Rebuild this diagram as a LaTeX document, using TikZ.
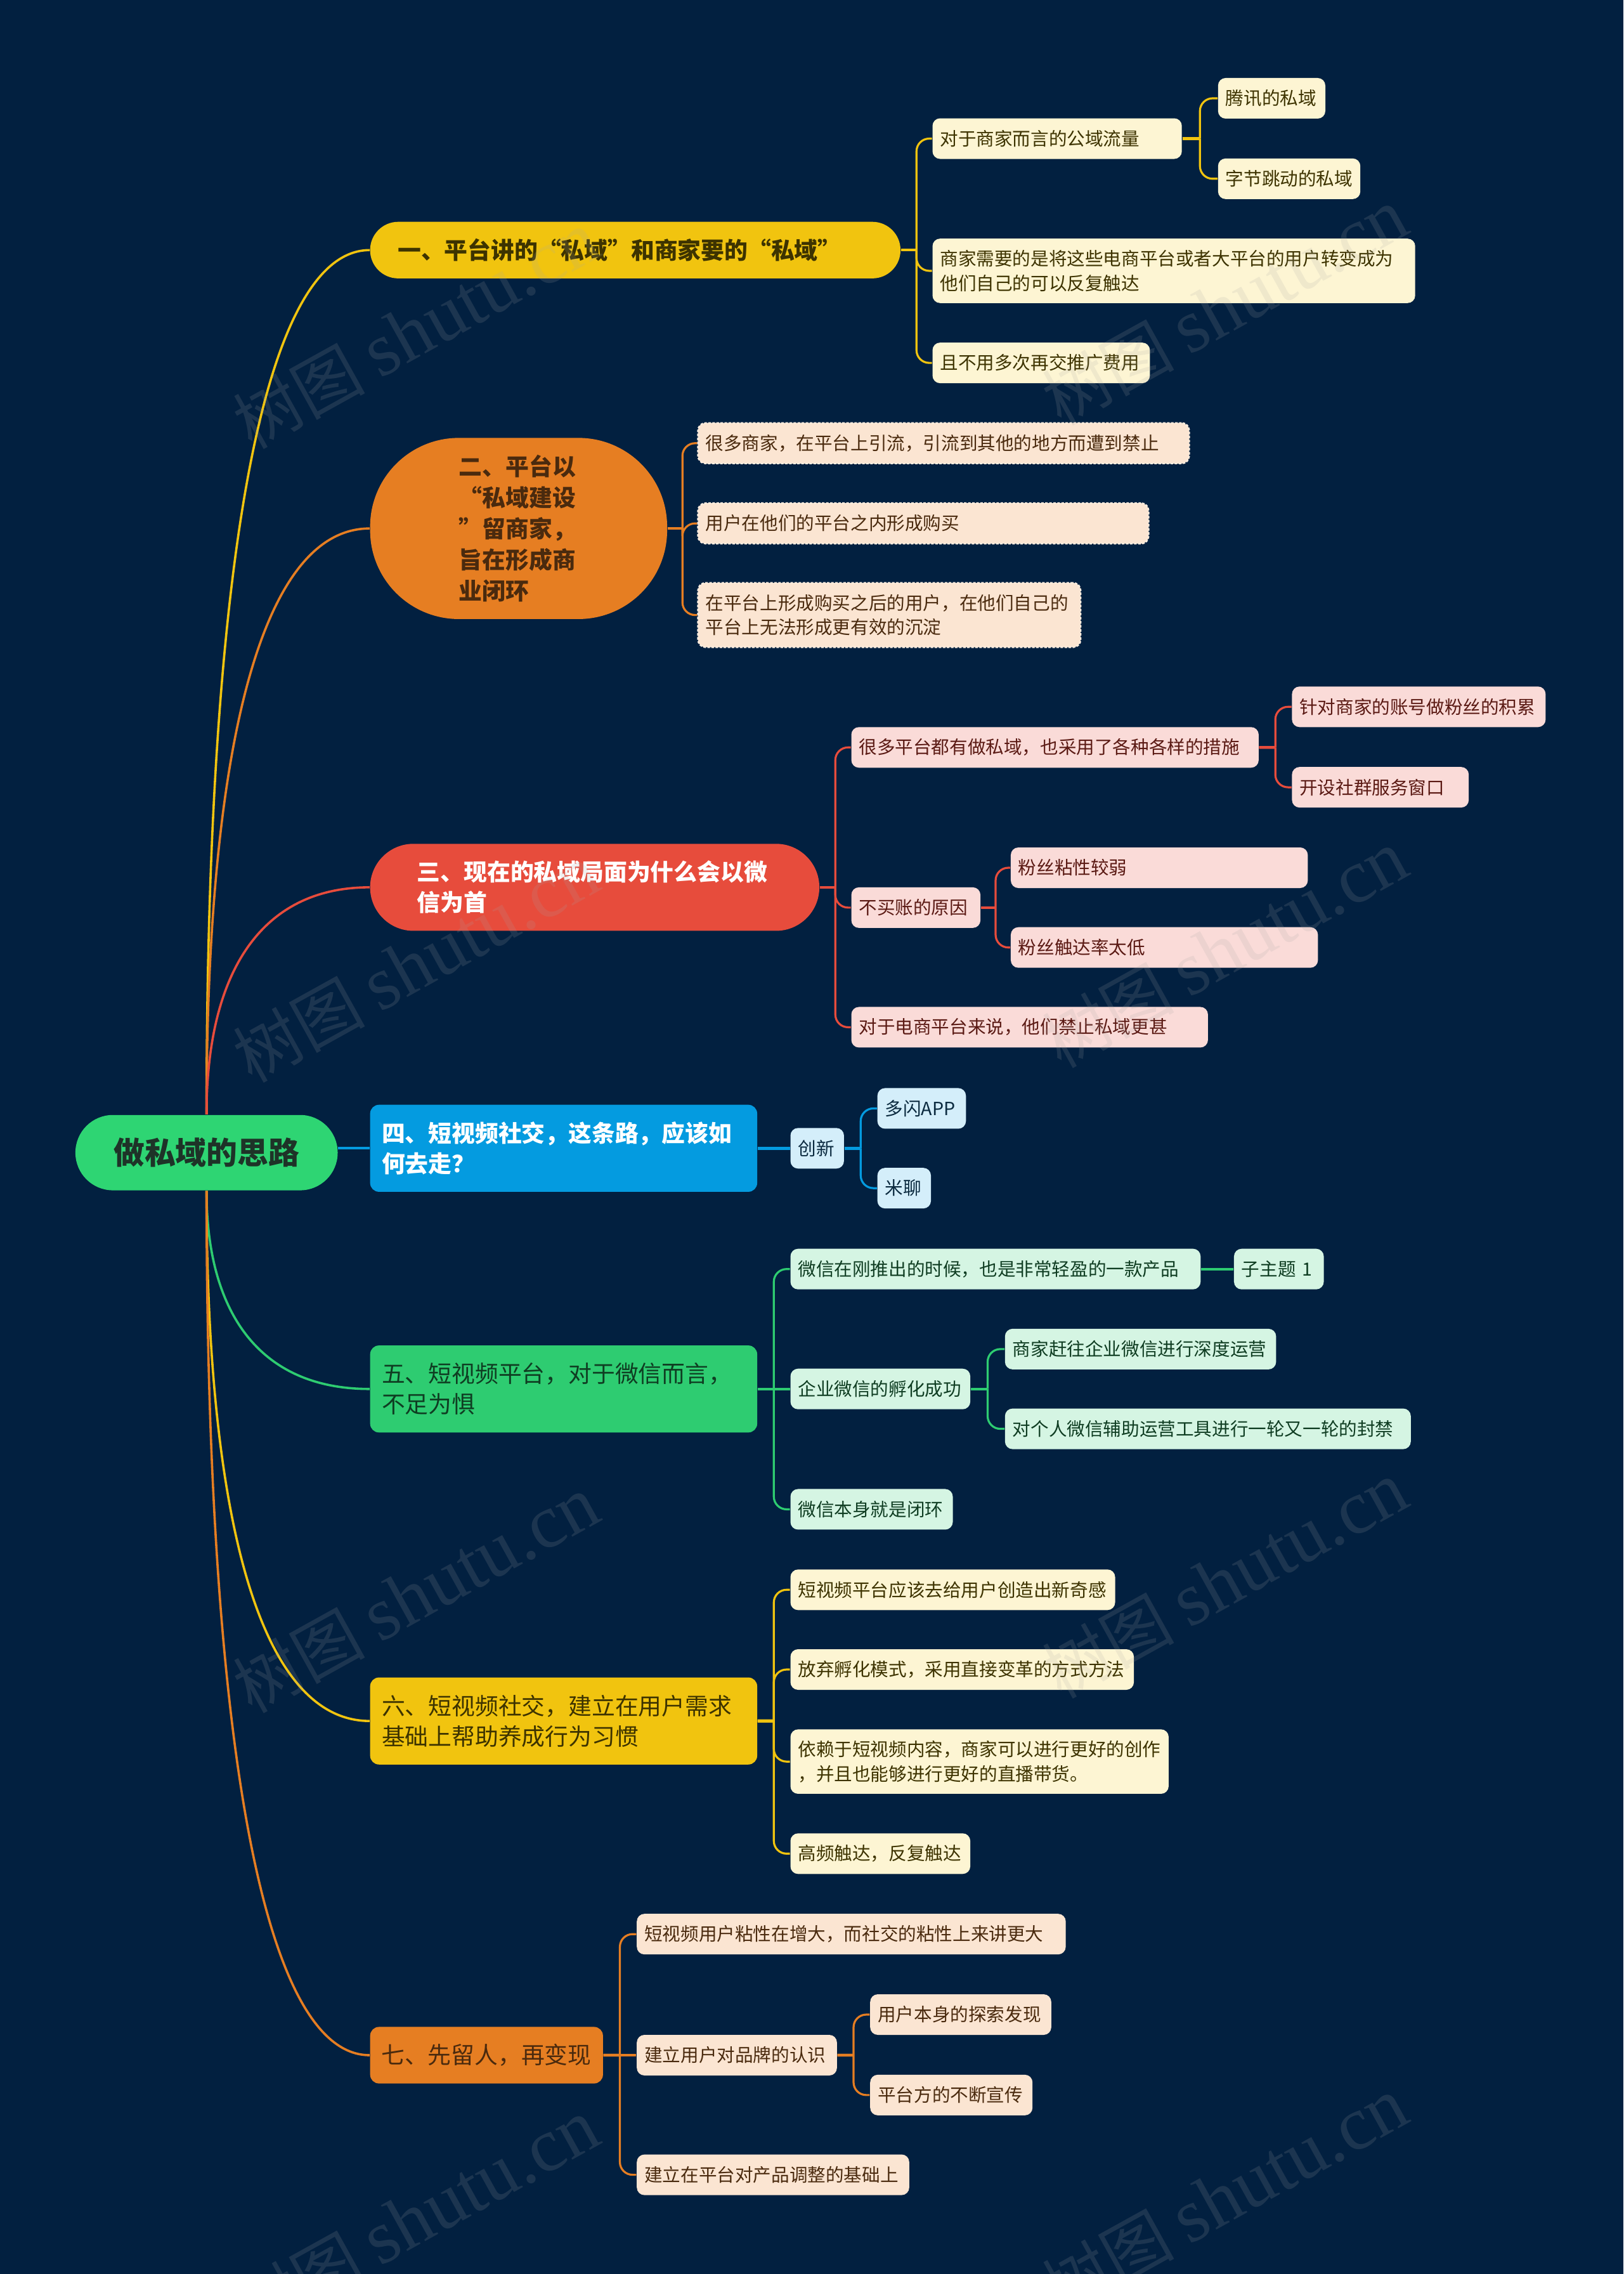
\documentclass[tikz,border=0pt]{standalone}
\usepackage{fontspec}
\setmainfont{Noto Sans CJK SC}
\newfontfamily\wmserif{Liberation Serif}
\usetikzlibrary{calc}
\definecolor{bg}{HTML}{022040}
\definecolor{rootc}{HTML}{2ED573}
\definecolor{cy}{HTML}{F1C40F}
\definecolor{co}{HTML}{E67E22}
\definecolor{cr}{HTML}{E74C3C}
\definecolor{cb}{HTML}{049BE0}
\definecolor{cg}{HTML}{2ECC71}
\definecolor{fy}{HTML}{FDF5D3}
\definecolor{fo}{HTML}{FBE5D2}
\definecolor{fr}{HTML}{FADBD8}
\definecolor{fb}{HTML}{D4EEFA}
\definecolor{fg}{HTML}{D5F5E3}
\definecolor{txty}{HTML}{3D3300}
\definecolor{txto}{HTML}{4A2A0E}
\definecolor{txtr}{HTML}{5B1A14}
\definecolor{txtb}{HTML}{0B2A3F}
\definecolor{txtg}{HTML}{0F3D22}
\definecolor{rootText}{HTML}{1E3328}
\newcommand\rootlink[3]{\draw[line width=0.9pt,color=#1] (#2) .. controls ($(#2)!0.62!(#2|-#3)$) and ($(#3)!0.67!(#2|-#3)$) .. (#3);}
\newcommand\kidlink[3]{%
  \draw[line width=1.1pt,color=#1] (#2.east) -- ($(#2.east)!.5!(#2.east-|#3.west)$);
  \draw[line width=0.8pt,color=#1,rounded corners=5pt] ($(#2.east)!.5!(#2.east-|#3.west)$) |- (#3.west);}
\newcommand\straightlink[3]{\draw[line width=1.1pt,color=#1] (#2.east) -- (#3.west);}
\begin{document}
\begin{tikzpicture}[x=0.571429pt,y=-0.571429pt,
  leaf/.style={anchor=west, rounded corners=3pt, inner xsep=3pt, inner ysep=0pt,
    minimum height=16pt, align=left, font=\fontsize{7.15}{9.7}\selectfont},
  twoline/.style={minimum height=25.4pt},
  yleaf/.style={leaf, fill=fy, text=txty},
  oleaf/.style={leaf, fill=fo, text=txto},
  odash/.style={oleaf, draw=fo!70!white, dash pattern=on 1pt off 0.6pt, line width=0.6pt},
  rleaf/.style={leaf, fill=fr, text=txtr},
  bleaf/.style={leaf, fill=fb, text=txtb},
  gleaf/.style={leaf, fill=fg, text=txtg},
  br/.style={anchor=west, inner xsep=0pt, inner ysep=0pt, align=left},
  brfont/.style={font=\fontsize{9.2}{12}\selectfont},
  brbold/.style={font=\fontsize{9.2}{12}\selectfont\bfseries},
  wm/.style={rotate=29, opacity=0.16, text=gray!70!white, inner sep=0pt}
]
\fill[bg] (0,0) rectangle (1120,1568.44);
\useasboundingbox (0,0) rectangle (1120,1568.44);

% root
\node[fill=rootc, text=rootText, rounded corners=14.8pt, minimum width=103.4pt, minimum height=29.7pt,
  inner sep=0pt, font=\fontsize{12.2}{14}\selectfont\bfseries] (root) at (142.5,795) {做私域的思路};

% branches
\node[br, brbold, fill=cy, text=txty, rounded corners=11.1pt, minimum width=209.1pt, minimum height=22.3pt,
  text width=187.3pt] (b1) at (255,172.5) {一、平台讲的“私域”和商家要的“私域”};
\node[br, fill=co, text=txto, rounded corners=35pt, minimum width=117.1pt, minimum height=71.4pt,
  text width=47pt, font=\fontsize{9.2}{12.2}\selectfont\bfseries] (b2) at (255,364.5) {二、平台以\\“私域建设\\”留商家，\\旨在形成商\\业闭环};
\node[br, brbold, fill=cr, text=white, rounded corners=17.1pt, minimum width=177.1pt, minimum height=34.3pt,
  text width=140pt] (b3) at (255,612) {三、现在的私域局面为什么会以微\\信为首};
\node[br, brbold, fill=cb, text=white, rounded corners=3.5pt, minimum width=152.6pt, minimum height=34.3pt,
  text width=143.4pt] (b4) at (255,792) {四、短视频社交，这条路，应该如\\何去走？};
\node[br, brfont, fill=cg, text=txtg, rounded corners=3.5pt, minimum width=152.6pt, minimum height=34.3pt,
  text width=143.4pt] (b5) at (255,958) {五、短视频平台，对于微信而言，\\不足为惧};
\node[br, brfont, fill=cy, text=txty, rounded corners=3.5pt, minimum width=152.6pt, minimum height=34.3pt,
  text width=143.4pt] (b6) at (255,1187) {六、短视频社交，建立在用户需求\\基础上帮助养成行为习惯};
\node[br, brfont, fill=co, text=txto, rounded corners=3.5pt, minimum width=91.8pt, minimum height=22.3pt,
  text width=83pt] (b7) at (255,1417.5) {七、先留人，再变现};

% branch 1 leaves
\node[yleaf, text width=92.3pt] (c11) at (643,95.6) {对于商家而言的公域流量};
\node[yleaf, text width=36.3pt] (c111) at (840,67.8) {腾讯的私域};
\node[yleaf, text width=50.1pt] (c112) at (840,123.3) {字节跳动的私域};
\node[yleaf, twoline, text width=184.3pt] (c12) at (643,186.8) {商家需要的是将这些电商平台或者大平台的用户转变成为\\他们自己的可以反复触达};
\node[yleaf, text width=79.7pt] (c13) at (643,250.3) {且不用多次再交推广费用};

% branch 2 leaves
\node[odash, text width=187.7pt] (c21) at (481,305.7) {很多商家，在平台上引流，引流到其他的地方而遭到禁止};
\node[odash, text width=171.7pt] (c22) at (481,361) {用户在他们的平台之内形成购买};
\node[odash, twoline, text width=144.9pt] (c23) at (481,424.2) {在平台上形成购买之后的用户，在他们自己的\\平台上无法形成更有效的沉淀};

% branch 3 leaves
\node[rleaf, text width=154.6pt] (c31) at (587,515.5) {很多平台都有做私域，也采用了各种各样的措施};
\node[rleaf, text width=94pt] (c311) at (891,487.5) {针对商家的账号做粉丝的积累};
\node[rleaf, text width=63.7pt] (c312) at (891,543) {开设社群服务窗口};
\node[rleaf, text width=44.9pt] (c32) at (587,626) {不买账的原因};
\node[rleaf, text width=111.1pt] (c321) at (697,598.5) {粉丝粘性较弱};
\node[rleaf, text width=115.1pt] (c322) at (697,653.5) {粉丝触达率太低};
\node[rleaf, text width=134.6pt] (c33) at (587,708.5) {对于电商平台来说，他们禁止私域更甚};

% branch 4 leaves
\node[bleaf, text width=15.1pt] (c41) at (545,792) {创新};
\node[bleaf, text width=28.9pt] (c411) at (605,764.5) {多闪APP};
\node[bleaf, text width=15.1pt] (c412) at (605,819.5) {米聊};

% branch 5 leaves
\node[gleaf, text width=155.7pt] (c51) at (545,875.3) {微信在刚推出的时候，也是非常轻盈的一款产品};
\node[gleaf, text width=29.4pt] (c511) at (851,875.3) {子主题 1};
\node[gleaf, text width=64.9pt] (c52) at (545,958) {企业微信的孵化成功};
\node[gleaf, text width=100.9pt] (c521) at (693,930.5) {商家赶往企业微信进行深度运营};
\node[gleaf, text width=154pt] (c522) at (693,985.5) {对个人微信辅助运营工具进行一轮又一轮的封禁};
\node[gleaf, text width=58pt] (c53) at (545,1041) {微信本身就是闭环};

% branch 6 leaves
\node[yleaf, text width=122pt] (c61) at (545,1096.5) {短视频平台应该去给用户创造出新奇感};
\node[yleaf, text width=129.4pt] (c62) at (545,1151.5) {放弃孵化模式，采用直接变革的方式方法};
\node[yleaf, twoline, text width=143.1pt] (c63) at (545,1215) {依赖于短视频内容，商家可以进行更好的创作\\，并且也能够进行更好的直播带货。};
\node[yleaf, text width=64.9pt] (c64) at (545,1278.5) {高频触达，反复触达};

% branch 7 leaves
\node[oleaf, text width=163.1pt] (c71) at (439,1334) {短视频用户粘性在增大，而社交的粘性上来讲更大};
\node[oleaf, text width=72.9pt] (c72) at (439,1417.5) {建立用户对品牌的认识};
\node[oleaf, text width=65.4pt] (c721) at (600,1389.5) {用户本身的探索发现};
\node[oleaf, text width=58pt] (c722) at (600,1445) {平台方的不断宣传};
\node[oleaf, text width=101.4pt] (c73) at (439,1500) {建立在平台对产品调整的基础上};

% root connectors
\rootlink{cy}{root.north}{b1.west}
\rootlink{co}{root.north}{b2.west}
\rootlink{cr}{root.north}{b3.west}
\draw[line width=1pt,color=cb] (root.east|-b4.west) -- (b4.west);
\rootlink{cg}{root.south}{b5.west}
\rootlink{cy}{root.south}{b6.west}
\rootlink{co}{root.south}{b7.west}

% child connectors
\kidlink{cy}{b1}{c11} \kidlink{cy}{b1}{c12} \kidlink{cy}{b1}{c13}
\kidlink{cy}{c11}{c111} \kidlink{cy}{c11}{c112}
\kidlink{co}{b2}{c21} \kidlink{co}{b2}{c22} \kidlink{co}{b2}{c23}
\kidlink{cr}{b3}{c31} \kidlink{cr}{b3}{c32} \kidlink{cr}{b3}{c33}
\kidlink{cr}{c31}{c311} \kidlink{cr}{c31}{c312}
\kidlink{cr}{c32}{c321} \kidlink{cr}{c32}{c322}
\straightlink{cb}{b4}{c41}
\kidlink{cb}{c41}{c411} \kidlink{cb}{c41}{c412}
\kidlink{cg}{b5}{c51} \straightlink{cg}{b5}{c52} \kidlink{cg}{b5}{c53}
\straightlink{cg}{c51}{c511}
\kidlink{cg}{c52}{c521} \kidlink{cg}{c52}{c522}
\kidlink{cy}{b6}{c61} \kidlink{cy}{b6}{c62} \kidlink{cy}{b6}{c63} \kidlink{cy}{b6}{c64}
\kidlink{co}{b7}{c71} \straightlink{co}{b7}{c72} \kidlink{co}{b7}{c73}
\kidlink{co}{c72}{c721} \kidlink{co}{c72}{c722}

% watermarks
\foreach \wx/\wy [count=\i] in {287/228, 845/212, 287/665, 845/655, 287/1100, 845/1090, 287/1530, 845/1515}
  \node[wm] (wm\i) at (\wx,\wy) {\fontsize{26}{26}\selectfont 树图 {\wmserif\fontsize{30}{30}\selectfont shutu.cn}};
\end{tikzpicture}
\end{document}
